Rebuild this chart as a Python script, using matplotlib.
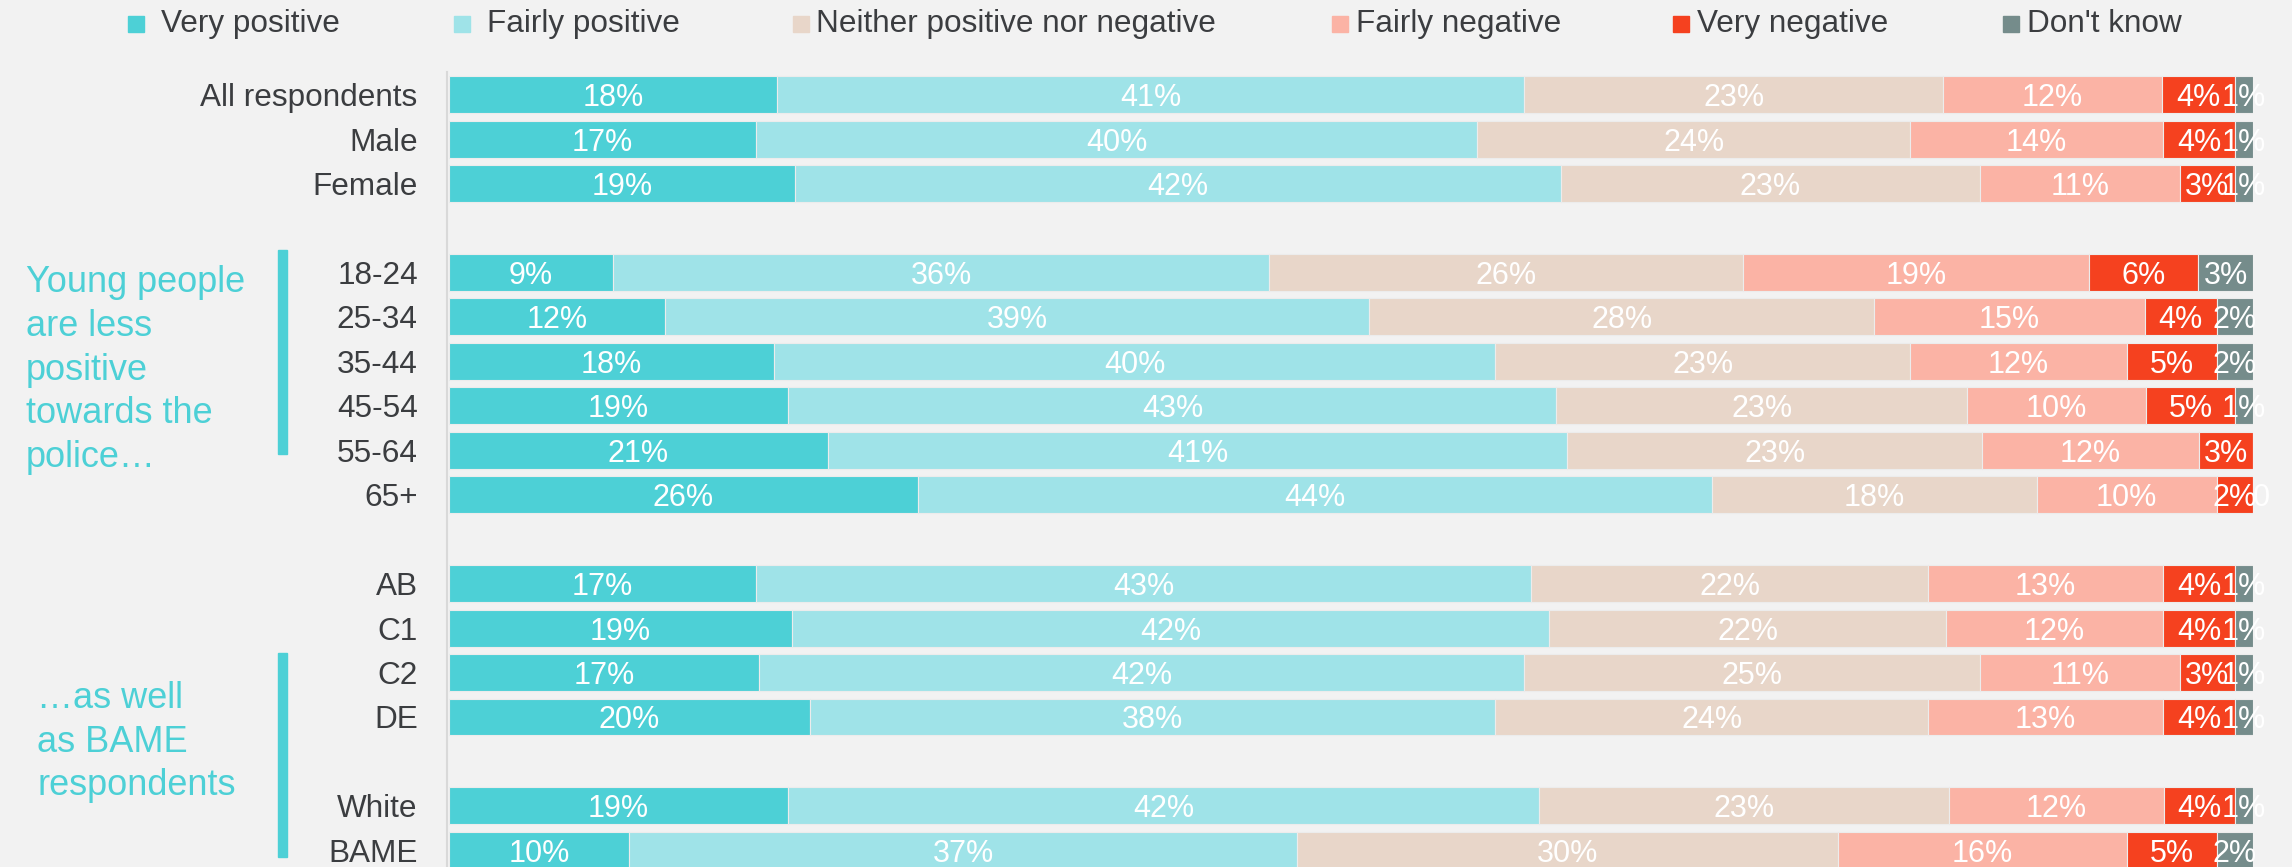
import matplotlib.pyplot as plt
import numpy as np
from matplotlib.patches import Rectangle

# data
groups = ["All respondents", "Male", "Female",
          "18-24", "25-34", "35-44", "45-54", "55-64", "65+",
          "AB", "C1", "C2", "DE",
          "White", "BAME"]
block_sizes = [3, 6, 4, 2]

series = ["Very positive", "Fairly positive", "Neither positive nor negative",
          "Fairly negative", "Very negative", "Don't know"]
very_pos = [18, 17, 19, 9, 12, 18, 19, 21, 26, 17, 19, 17, 20, 19, 10]
fairly_pos = [41, 40, 42, 36, 39, 40, 43, 41, 44, 43, 42, 42, 38, 42, 37]
neither = [23, 24, 23, 26, 28, 23, 23, 23, 18, 22, 22, 25, 24, 23, 30]
fairly_neg = [12, 14, 11, 19, 15, 12, 10, 12, 10, 13, 12, 11, 13, 12, 16]
very_neg = [4, 4, 3, 6, 4, 5, 5, 3, 2, 4, 4, 3, 4, 4, 5]
dont_know = [1, 1, 1, 3, 2, 2, 1, 0, 0, 1, 1, 1, 1, 1, 2]

colors = ['#4dd0d6', '#9fe3e8', '#e8d6c9', '#fbb3a5', '#f5411f', '#758c8b']
bg = '#f2f2f2'
txt = '#3b3d40'
teal = '#4dd0d6'

plt.rcParams['font.family'] = ['Liberation Sans', 'DejaVu Sans']

W, H = 2292, 867
fig = plt.figure(figsize=(W / 100, H / 100), dpi=100, facecolor=bg)
ax = fig.add_axes([449 / W, -0.0064, 1804 / W, 0.9229])
ax.set_facecolor(bg)

# row positions with an empty slot between blocks
ypos = []
slot = 0
for n in block_sizes:
    ypos += list(range(slot, slot + n))
    slot += n + 1
ypos = np.array(ypos)

data = np.array([very_pos, fairly_pos, neither, fairly_neg, very_neg, dont_know], dtype=float)
totals = data.sum(axis=0)

left = np.zeros(len(groups))
for vals, col in zip(data, colors):
    w = vals / totals * 100
    ax.barh(ypos, w, left=left, height=0.83, color=col, edgecolor='#ececec', linewidth=0.8)
    for y, l, ww, v in zip(ypos, left, w, vals):
        if v > 0:
            ax.text(l + ww / 2, y, f'{int(v)}%', ha='center', va='center_baseline',
                    color='white', fontsize=22)
    left += w

# stray zero label on the 65+ row
ax.text(100, ypos[8], '0', ha='left', va='center_baseline', color='white',
        fontsize=22, clip_on=False)

ax.set_xlim(0, 100)
ax.set_ylim(ypos.max() + 0.5, -0.5)
ax.set_yticks(ypos, groups)
ax.set_xticks([])
ax.tick_params(axis='y', length=0, pad=21, labelsize=22.7, labelcolor=txt)
for s in ['top', 'right', 'bottom']:
    ax.spines[s].set_visible(False)
ax.spines['left'].set_color('#d9d9d9')
ax.spines['left'].set_linewidth(1.5)
ax.spines['left'].set_position(('outward', 1.5))

# legend
leg_sq = [128, 454, 793, 1332, 1673, 2003]
leg_tx = [161, 487, 816, 1356, 1697, 2027]
ly = 24
for name, col, sx, tx in zip(series, colors, leg_sq, leg_tx):
    fig.add_artist(Rectangle((sx / W, 1 - (ly + 8) / H), 16 / W, 16 / H,
                             transform=fig.transFigure, color=col))
    fig.text(tx / W, 1 - ly / H, name, ha='left', va='center', color=txt, fontsize=22.7)

# side notes
fig.text(26 / W, 1 - 370 / H, "Young people\nare less\npositive\ntowards the\npolice…",
         ha='left', va='center', color=teal, fontsize=26, linespacing=1.32)
fig.add_artist(Rectangle((278 / W, 1 - 454 / H), 9 / W, 204 / H,
                         transform=fig.transFigure, color=teal))
fig.text(37 / W, 1 - 742 / H, "…as well\nas BAME\nrespondents",
         ha='left', va='center', color=teal, fontsize=26, linespacing=1.32)
fig.add_artist(Rectangle((278 / W, 1 - 857 / H), 9 / W, 204 / H,
                         transform=fig.transFigure, color=teal))

fig.savefig('out.png', dpi=100, facecolor=bg)
